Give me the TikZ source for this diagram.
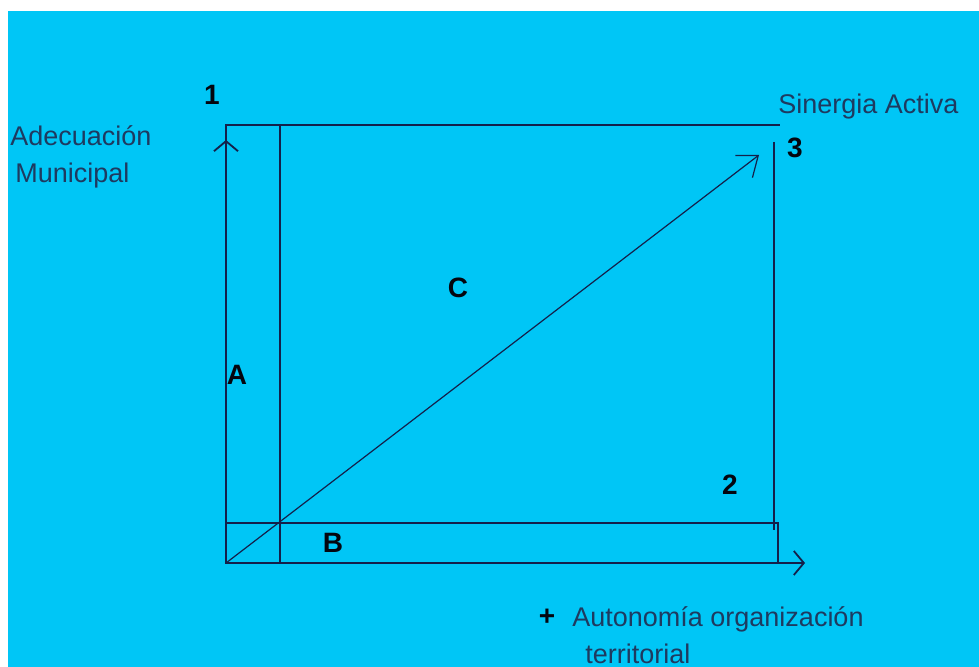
\documentclass[tikz,border=0pt]{standalone}
\usepackage{fontspec}
\setmainfont{Liberation Sans}
\usetikzlibrary{arrows.meta,positioning}
\definecolor{sky}{HTML}{00C6F6}
\definecolor{ink}{HTML}{14204A}
\definecolor{labelink}{HTML}{1E3A60}
\tikzset{
  frameline/.style={draw=ink, line width=0.9pt},
  axisarr/.style={frameline, -{Straight Barb[length=5pt,width=12pt]}},
  diagarr/.style={draw=ink, line width=0.6pt, -{Straight Barb[length=9pt,width=14pt]}},
  zone/.style={font=\fontsize{14}{16}\selectfont\bfseries, text=black!80!ink, inner sep=0pt},
  axislabel/.style={font=\fontsize{13.5}{16}\selectfont, text=labelink, inner sep=0pt, anchor=base west}
}
\begin{document}
\begin{tikzpicture}[x=0.5pt, y=-0.5pt]
    \useasboundingbox (0,0) rectangle (979,667);
    \fill[white] (0,0) rectangle (979,667);
    \fill[sky] (8,11) rectangle (979,667);
    % axes ends
    \coordinate (origin) at (226,563);
    \coordinate (ytip) at (226,140);
    \coordinate (xtip) at (805,563);
    \coordinate (synergy) at (759,155);
    % zones A, B, C
    \draw[frameline] (226,125) rectangle (280,563);
    \draw[frameline] (280,125) -- (780,125);
    \draw[frameline] (774,142) -- (774,530);
    \draw[frameline] (226,523) -- (778,523) -- (778,563);
    \draw[axisarr] (origin) -- (ytip);
    \draw[axisarr] (origin) -- (xtip);
    \draw[diagarr] (origin) -- (synergy);
    % labels
    \node[zone] (one) at (212,95) {1};
    \node[zone] (two) at (730,485) {2};
    \node[zone] (three) at (795,148) {3};
    \node[zone] (zoneA) at (237,375) {A};
    \node[zone] (zoneB) at (333,543) {B};
    \node[zone] (zoneC) at (458,288) {C};
    \node[axislabel] (ylabel) at (10,146) {Adecuación};
    \node[axislabel] (ylabelb) at (15,183) {Municipal};
    \node[axislabel] (goal) at (778,114) {Sinergia Activa};
    \node[zone] (plus) at (547,617) {+};
    \node[axislabel] (xlabel) at (572,626) {Autonomía organización};
    \node[axislabel] (xlabelb) at (585,663) {territorial};
\end{tikzpicture}
\end{document}
